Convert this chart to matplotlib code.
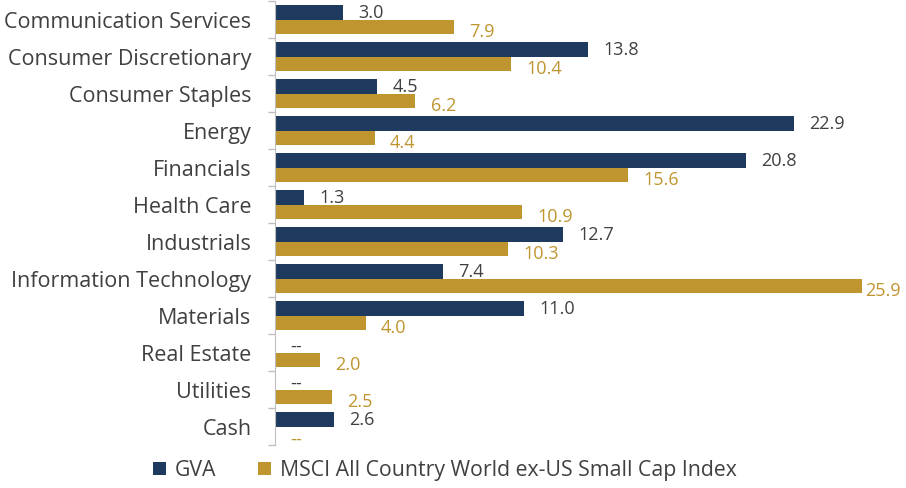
import matplotlib
matplotlib.use("Agg")
import matplotlib.pyplot as plt
import numpy as np

sectors = ["Communication Services", "Consumer Discretionary", "Consumer Staples",
           "Energy", "Financials", "Health Care", "Industrials",
           "Information Technology", "Materials", "Real Estate", "Utilities", "Cash"]
gva = [3.0, 13.8, 4.5, 22.9, 20.8, 1.3, 12.7, 7.4, 11.0, None, None, 2.6]
msci = [7.9, 10.4, 6.2, 4.4, 15.6, 10.9, 10.3, 25.9, 4.0, 2.0, 2.5, None]

NAVY = "#1F3A5F"
GOLD = "#BF952F"
TEXT = "#404040"

plt.rcParams['font.family'] = ['Open Sans', 'DejaVu Sans']

fig = plt.figure(figsize=(9.06, 4.88), dpi=100)
ax = fig.add_axes([275 / 906, 1 - 445 / 488, 600 / 906, 444 / 488])

y = np.arange(len(sectors))
h = 0.4
gva_vals = [v if v is not None else 0 for v in gva]
msci_vals = [v if v is not None else 0 for v in msci]
b1 = ax.barh(y - h / 2, gva_vals, height=h, color=NAVY, label="GVA")
b2 = ax.barh(y + h / 2, msci_vals, height=h, color=GOLD,
             label="MSCI All Country World ex-US Small Cap Index")

# Excel squeezes the label of the longest bar against the plot edge
longest = max(msci_vals + gva_vals)
for yi, v in zip(y, gva):
    txt = "--" if v is None else f"{v:.1f}"
    ax.annotate(txt, (v or 0, yi - h / 2), xytext=(11, -1), textcoords="offset points",
                ha="left", va="center", fontsize=13, color=TEXT)
for yi, v in zip(y, msci):
    txt = "--" if v is None else f"{v:.1f}"
    dx = 2 if v == longest else 11
    ax.annotate(txt, (v or 0, yi + h / 2), xytext=(dx, -4), textcoords="offset points",
                ha="left", va="center", fontsize=13, color=GOLD)

ax.set_ylim(len(sectors) - 0.5, -0.5)
ax.set_xlim(0, 600 / 22.66)
ax.set_yticks(y)
ax.set_yticklabels(sectors, fontsize=15.5, color=TEXT)
ax.tick_params(axis="y", which="major", length=0, pad=17)
ax.set_yticks(np.arange(-0.5, len(sectors), 1), minor=True)
ax.tick_params(axis="y", which="minor", length=5, color="#BFBFBF", width=1)
ax.set_xticks([])
for s in ["top", "right", "bottom"]:
    ax.spines[s].set_visible(False)
ax.spines["left"].set_color("#BFBFBF")

fig.legend(handles=[b1, b2], loc="center", bbox_to_anchor=(0.491, 0.036), ncol=2,
           frameon=False, fontsize=15.3, handlelength=0.6, handleheight=0.6,
           handletextpad=0.4, columnspacing=2.0, labelcolor=TEXT)

fig.savefig("out.png", dpi=100)
